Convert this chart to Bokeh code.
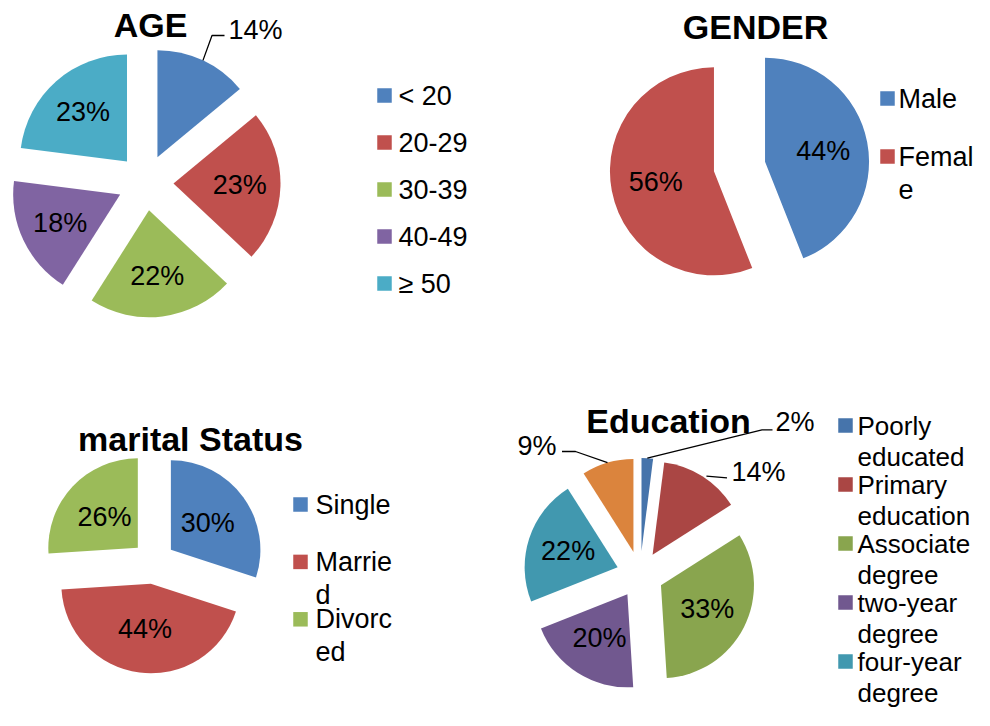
import math
from bokeh.plotting import figure
from bokeh.models import Range1d
from bokeh.core.properties import value
from bokeh.embed import file_html
from bokeh.resources import INLINE

# ---------------- data ----------------
age_labels = ["< 20", "20-29", "30-39", "40-49", "\u2265 50"]
age_values = [14, 23, 22, 18, 23]

gender_labels = ["Male", "Female"]
gender_values = [44, 56]

marital_labels = ["Single", "Married", "Divorced"]
marital_values = [30, 44, 26]

edu_labels = ["Poorly educated", "Primary education", "Associate degree",
              "two-year degree", "four-year degree", "other"]
edu_values = [2, 14, 33, 20, 22, 9]

# legend texts as wrapped in the original
age_legend = [["< 20"], ["20-29"], ["30-39"], ["40-49"], ["\u2265 50"]]
gender_legend = [["Male"], ["Femal", "e"]]
marital_legend = [["Single"], ["Marrie", "d"], ["Divorc", "ed"]]
edu_legend = [["Poorly", "educated"], ["Primary", "education"], ["Associate", "degree"],
              ["two-year", "degree"], ["four-year", "degree"]]

# ---------------- styles ----------------
pal_light = ["#4F81BD", "#C0504D", "#9BBB59", "#8064A2", "#4BACC6"]
pal_dark = ["#4674AB", "#AA4644", "#89A54E", "#71588F", "#4198AF", "#DB843D"]
FONT = "Liberation Sans"
LBL = "27px"
TTL = "34px"
H = 726  # image height; data y = H - pixel y

W_FIG, H_FIG = 974, 710
p = figure(width=W_FIG, height=H_FIG, output_backend="svg", toolbar_location=None,
           x_range=Range1d(0, W_FIG), y_range=Range1d(H - H_FIG, H),
           x_axis_location=None, y_axis_location=None, min_border=0)
p.grid.visible = False
p.outline_line_color = None
p.background_fill_color = "white"
p.border_fill_color = "white"


def Y(py):
    return H - py


def pie(values, colors, cx, cy, R, d, frac, outside=()):
    """Exploded pie, clockwise from 12 o'clock. cx, cy in pixel coords."""
    total = float(sum(values))
    c = 0.0
    xs, ys, sa, ea, lx, ly, lt = [], [], [], [], [], [], []
    edges = {}
    for i, v in enumerate(values):
        f0 = c / total
        f1 = (c + v) / total
        fm = (f0 + f1) / 2
        mid = math.pi / 2 - 2 * math.pi * fm
        ox = cx + d * math.cos(mid)
        oy = Y(cy) + d * math.sin(mid)
        xs.append(ox)
        ys.append(oy)
        sa.append(math.pi / 2 - 2 * math.pi * f0)
        ea.append(math.pi / 2 - 2 * math.pi * f1)
        edges[i] = (ox + R * math.cos(mid), oy + R * math.sin(mid))
        if i not in outside:
            rr = frac * R
            lx.append(ox + rr * math.cos(mid))
            ly.append(oy + rr * math.sin(mid))
            lt.append(f"{v}%")
        c += v
    p.wedge(x=xs, y=ys, radius=R, start_angle=sa, end_angle=ea, direction="clock",
            fill_color=colors[:len(values)], line_color=None)
    p.text(x=lx, y=ly, text=lt, text_font=value(FONT), text_font_size=LBL,
           text_align="center", text_baseline="middle", text_color="black")
    return edges


def outside_label(txt, edge, path, tx, ty, align):
    xs = [edge[0]] + [q[0] for q in path]
    ys = [edge[1]] + [Y(q[1]) for q in path]
    p.line(xs, ys, line_color="black", line_width=1.3)
    p.text(x=[tx], y=[Y(ty)], text=[txt], text_font=value(FONT), text_font_size=LBL,
           text_align=align, text_baseline="middle", text_color="black")


def legend(entries, colors, sq_x, txt_x, y0, step, line_h=33, size=LBL):
    sx, sy, sc = [], [], []
    tx, ty, tt = [], [], []
    for i, lines in enumerate(entries):
        yc = y0 + i * step
        sx.append(sq_x)
        sy.append(Y(yc))
        sc.append(colors[i])
        for j, ln in enumerate(lines):
            tx.append(txt_x)
            ty.append(Y(yc + j * line_h))
            tt.append(ln)
    p.rect(x=sx, y=sy, width=14.5, height=14.5, fill_color=sc, line_color=None)
    p.text(x=tx, y=ty, text=tt, text_font=value(FONT), text_font_size=size,
           text_align="left", text_baseline="middle", text_color="black")


def title(txt, x, y):
    p.text(x=[x], y=[Y(y)], text=[txt], text_font=value(FONT), text_font_size=TTL,
           text_font_style="bold", text_align="center", text_baseline="middle",
           text_color="black")


# ---------------- AGE ----------------
e = pie(age_values, pal_light, 145, 182, 107, 28, 0.62, outside=(0,))
outside_label(f"{age_values[0]}%", e[0], [(211.5, 35), (224, 35)], 228, 29, "left")
title("AGE", 150, 24)
legend(age_legend, pal_light, 384, 398, 95, 47)

# ---------------- GENDER ----------------
pie(gender_values, pal_light, 739, 166, 104, 26, 0.57)
title("GENDER", 755, 26)
legend(gender_legend, pal_light, 887, 898, 98, 58)

# ---------------- marital Status ----------------
pie(marital_values, pal_light, 153, 562, 89.5, 21.5, 0.51)
title("marital Status", 190, 438)
legend(marital_legend, pal_light, 300, 315, 504, 57.4)

# ---------------- Education ----------------
e = pie(edu_values, pal_dark, 639.5, 574, 93, 23.5, 0.56, outside=(0, 1, 5))
outside_label(f"{edu_values[0]}%", e[0], [(761.5, 429.3), (772, 429.3)], 775, 421, "left")
outside_label(f"{edu_values[1]}%", (e[1][0] + 4, e[1][1]), [(726.5, 477.3)], 731, 471, "left")
outside_label(f"{edu_values[5]}%", e[5], [(575, 451), (561.5, 451)], 556, 445, "right")
title("Education", 668, 420)
legend(edu_legend, pal_dark, 845, 857, 425, 59, line_h=31, size="26px")

html = file_html(p, INLINE)
open("out.html", "w").write(html)
